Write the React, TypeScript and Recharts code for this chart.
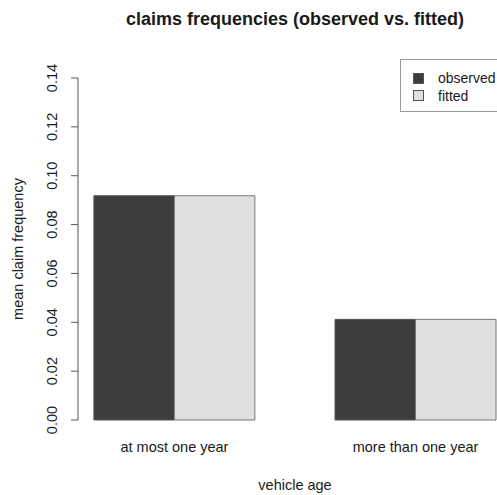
import { BarChart, Bar, XAxis, YAxis } from 'recharts';

const categories = ['at most one year', 'more than one year'];
const observed = [0.0918, 0.0412];
const fitted = [0.0918, 0.0412];
const yTicks = [0, 0.02, 0.04, 0.06, 0.08, 0.1, 0.12, 0.14];

const seriesNames = ['observed', 'fitted'];
const seriesColors = ['#3d3d3d', '#dfdfdf'];

const FONT = '"Liberation Sans", Arial, Helvetica, sans-serif';
const TEXT = '#1a1a1a';

// R barplot layout: space of 1 before each group of 2 bars
const data = categories.map((name, i) => ({
  name,
  pos: 2 + i * 3,
  observed: observed[i],
  fitted: fitted[i],
}));

const YTick = (props: any) => {
  const { y, payload } = props;
  const x = 52;
  return (
    <text
      x={x}
      y={y}
      dy="0.35em"
      transform={`rotate(-90, ${x}, ${y})`}
      textAnchor="middle"
      fontSize={14.5}
      fontFamily={FONT}
      fill={TEXT}
    >
      {payload.value.toFixed(2)}
    </text>
  );
};

const XTick = (props: any) => {
  const { x, index } = props;
  return (
    <text x={x} y={452} textAnchor="middle" fontSize={14.5} fontFamily={FONT} fill={TEXT}>
      {categories[index]}
    </text>
  );
};

export default function App() {
  return (
    <div
      style={{
        position: 'absolute',
        left: 0,
        top: 0,
        width: 497,
        height: 495,
        overflow: 'hidden',
        background: '#fff',
        fontFamily: FONT,
      }}
    >
      <BarChart
        width={540}
        height={495}
        data={data}
        margin={{ top: 78, right: 28, bottom: 0, left: 0 }}
        barGap={0}
      >
        <XAxis
          dataKey="pos"
          type="number"
          domain={[0.8, 6.2]}
          allowDataOverflow
          ticks={[2, 5]}
          axisLine={false}
          tickLine={false}
          tick={<XTick />}
          height={75}
          interval={0}
        />
        <YAxis
          type="number"
          domain={[0, 0.14]}
          ticks={yTicks}
          width={78}
          tickSize={7}
          axisLine={{ stroke: '#555' }}
          tickLine={{ stroke: '#555' }}
          tick={<YTick />}
          interval={0}
        />
        <Bar dataKey="observed" barSize={80.5} fill={seriesColors[0]} stroke="#555" strokeWidth={1} isAnimationActive={false} />
        <Bar dataKey="fitted" barSize={80.5} fill={seriesColors[1]} stroke="#777" strokeWidth={1} isAnimationActive={false} />
      </BarChart>

      <div
        style={{
          position: 'absolute',
          left: 0,
          top: 8,
          width: 590,
          textAlign: 'center',
          fontSize: 18,
          fontWeight: 'bold',
          color: TEXT,
          lineHeight: '22px',
        }}
      >
        claims frequencies (observed vs. fitted)
      </div>

      <div
        style={{
          position: 'absolute',
          left: 0,
          top: 476,
          width: 590,
          textAlign: 'center',
          fontSize: 14.5,
          color: TEXT,
          lineHeight: '18px',
        }}
      >
        vehicle age
      </div>

      <div
        style={{
          position: 'absolute',
          left: 17.5 - 150,
          top: 249 - 9,
          width: 300,
          textAlign: 'center',
          fontSize: 14.5,
          color: TEXT,
          lineHeight: '18px',
          transform: 'rotate(-90deg)',
        }}
      >
        mean claim frequency
      </div>

      <div
        style={{
          position: 'absolute',
          left: 400,
          top: 59,
          width: 130,
          height: 53,
          border: '1px solid #999',
          boxSizing: 'border-box',
        }}
      >
        {seriesNames.map((n, i) => (
          <div
            key={n}
            style={{
              position: 'absolute',
              left: 12,
              top: 9 + i * 17.5,
              height: 18,
              display: 'flex',
              alignItems: 'center',
              fontSize: 14,
              color: TEXT,
              whiteSpace: 'nowrap',
            }}
          >
            <span
              style={{
                display: 'inline-block',
                width: 9,
                height: 9,
                background: seriesColors[i],
                border: '1px solid #555',
                marginRight: 14,
              }}
            />
            {n}
          </div>
        ))}
      </div>
    </div>
  );
}
